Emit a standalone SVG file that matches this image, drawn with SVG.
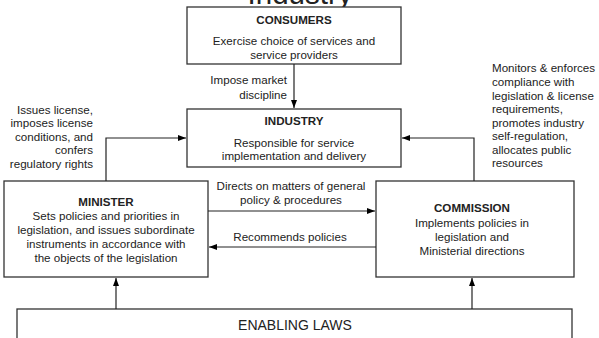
<svg xmlns="http://www.w3.org/2000/svg" width="599" height="338" viewBox="0 0 599 338">
<defs>
<marker id="ah" viewBox="0 0 8 8" refX="8" refY="4" markerWidth="8" markerHeight="8" orient="auto" markerUnits="userSpaceOnUse">
<path d="M0,1 L8,4 L0,7 Z" fill="#000"/>
</marker>
<style>
.box{fill:#fff;stroke:#333;stroke-width:1.3}
.t{font-family:"Liberation Sans",Arial,sans-serif;font-size:11.6px;fill:#222}
.b{font-family:"Liberation Sans",Arial,sans-serif;font-size:11.6px;font-weight:bold;fill:#222}
.c{text-anchor:middle}
.r{text-anchor:end}
.ln{fill:none;stroke:#222;stroke-width:1.2;marker-end:url(#ah)}
</style>
</defs>
<rect width="599" height="338" fill="#fff"/>
<text x="300" y="4" font-family="'Liberation Sans',Arial,sans-serif" font-size="29.5" text-anchor="middle" fill="#222">Industry</text>
<g id="consumers">
<rect class="box" x="187" y="7" width="214" height="57"/>
<text class="b c" x="294" y="24">CONSUMERS</text>
<text class="t c" x="294" y="45">Exercise choice of services and</text>
<text class="t c" x="294" y="59">service providers</text>
</g>
<g id="industry">
<rect class="box" x="187" y="109" width="214" height="58"/>
<text class="b c" x="294" y="125">INDUSTRY</text>
<text class="t c" x="294" y="147">Responsible for service</text>
<text class="t c" x="294" y="160">implementation and delivery</text>
</g>
<g id="minister">
<rect class="box" x="4" y="181" width="204" height="96"/>
<text class="b c" x="106" y="206">MINISTER</text>
<text class="t c" x="106" y="220">Sets policies and priorities in</text>
<text class="t c" x="106" y="234">legislation, and issues subordinate</text>
<text class="t c" x="106" y="248">instruments in accordance with</text>
<text class="t c" x="106" y="262">the objects of the legislation</text>
</g>
<g id="commission">
<rect class="box" x="376" y="181" width="198" height="96"/>
<text class="b c" x="472" y="212">COMMISSION</text>
<text class="t c" x="472" y="227">Implements policies in</text>
<text class="t c" x="472" y="241">legislation and</text>
<text class="t c" x="472" y="255">Ministerial directions</text>
</g>
<g id="enabling-laws">
<rect class="box" x="17" y="309" width="555" height="40"/>
<text x="295" y="330" font-family="'Liberation Sans',Arial,sans-serif" font-size="14" text-anchor="middle" fill="#222">ENABLING LAWS</text>
</g>
<g id="connectors">
<path class="ln" d="M294,64 V108"/>
<path class="ln" d="M106,181 V138 H186"/>
<path class="ln" d="M474,181 V138 H402"/>
<path class="ln" d="M208,211 H375"/>
<path class="ln" d="M376,247 H209"/>
<path class="ln" d="M116,309 V278"/>
<path class="ln" d="M472,309 V278"/>
</g>
<g id="labels">
<text class="t r" x="287" y="84">Impose market</text>
<text class="t r" x="287" y="99">discipline</text>
<text class="t r" x="93" y="114">Issues license,</text>
<text class="t r" x="93" y="127">imposes license</text>
<text class="t r" x="93" y="141">conditions, and</text>
<text class="t r" x="93" y="154">confers</text>
<text class="t r" x="93" y="168">regulatory rights</text>
<text class="t" x="492" y="72">Monitors &amp; enforces</text>
<text class="t" x="492" y="86">compliance with</text>
<text class="t" x="492" y="100">legislation &amp; license</text>
<text class="t" x="492" y="113">requirements,</text>
<text class="t" x="492" y="127">promotes industry</text>
<text class="t" x="492" y="140">self-regulation,</text>
<text class="t" x="492" y="154">allocates public</text>
<text class="t" x="492" y="167">resources</text>
<text class="t c" x="291" y="190">Directs on matters of general</text>
<text class="t c" x="291" y="204">policy &amp; procedures</text>
<text class="t c" x="290" y="241">Recommends policies</text>
</g>
</svg>
